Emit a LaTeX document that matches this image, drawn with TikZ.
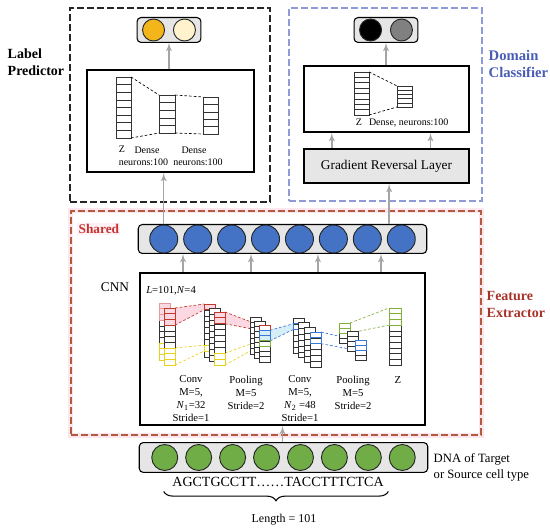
\documentclass[tikz,border=0pt]{standalone}
\usepackage{fontspec}
\setmainfont{Liberation Serif}
\usetikzlibrary{arrows}
\usetikzlibrary{calc}
\usetikzlibrary{matrix}
\usetikzlibrary{positioning}
\usetikzlibrary{decorations.pathreplacing}

\definecolor{lpgold}{HTML}{F2B51A}
\definecolor{lpcream}{HTML}{FFF2CC}
\definecolor{dcgray}{HTML}{808080}
\definecolor{dcblue}{HTML}{8E9BD8}
\definecolor{dctext}{HTML}{4A5DB5}
\definecolor{febrown}{HTML}{B25A3E}
\definecolor{fetext}{HTML}{A8322A}
\definecolor{fepink}{HTML}{FDE6EE}
\definecolor{sharedred}{HTML}{C8312F}
\definecolor{unitblue}{HTML}{4472C4}
\definecolor{unitgreen}{HTML}{70AD47}
\definecolor{stripgray}{HTML}{E7E6E6}
\definecolor{flowgray}{HTML}{A5A5A5}
\definecolor{cnnred}{HTML}{C0392B}
\definecolor{cnnyellow}{HTML}{E6D21E}
\definecolor{cnnblue}{HTML}{3A78D8}
\definecolor{cnngreen}{HTML}{82B03C}
\definecolor{rfpink}{HTML}{FBD8E2}
\definecolor{rfblue}{HTML}{D6EEF8}

\tikzstyle{every picture}=[>=latex']
\tikzstyle{every node}=[font=\fontsize{8}{9.75}\selectfont]
\tikzstyle{reset}=[inner sep=0pt, outer sep=0pt, anchor=center]
\tikzstyle{panel}=[draw=black!85, line width=1.3pt, dash pattern=on 5pt off 2.5pt, rectangle]
\tikzstyle{block}=[draw, line width=1.6pt, rectangle, inner sep=0pt]
\tikzstyle{strip}=[draw, rectangle, rounded corners=3pt, fill=stripgray, line width=0.8pt]
\tikzstyle{unit}=[reset, draw=black!85, circle, line width=0.7pt]
\tikzstyle{flow}=[->, draw=flowgray, line width=1.1pt]
\tikzstyle{link}=[line width=0.5pt, dash pattern=on 2pt off 1.5pt]
\tikzstyle{title}=[font=\fontsize{10.5}{12.75}\selectfont\bfseries, align=left, anchor=west]
\tikzstyle{dense}=[reset, font=\fontsize{7.5}{9}\selectfont]

\newcommand{\markcells}[5]{%
  \foreach \k [evaluate=\k as \ka using (\k-1)/#4, evaluate=\k as \kb using \k/#4] in {#2,...,#3}
    \draw[#5] ($(#1.north west)!\ka!(#1.south west)$) rectangle ($(#1.north east)!\kb!(#1.south east)$);
}
\tikzset{col/.style={draw=black!80, fill=white, rectangle, inner sep=0pt, outer sep=0pt,
    anchor=north west, line width=0.4pt,
    path picture={\markcells{path picture bounding box}{1}{#1}{#1}{black!80, line width=0.4pt}}},
  fmap/.style={col=#1, minimum width=8.25pt}}
\pgfdeclarelayer{background}
\pgfsetlayers{background,main}

\begin{document}
\begin{tikzpicture}[x=0.75pt, y=-0.75pt]
\useasboundingbox (0,0) rectangle (550,531);

% label predictor
\node[panel, minimum width=150pt, minimum height=145.5pt] (LPBox) at (170,105) {};
\node[title] (LPTitle) at (3,62) {Label\\Predictor};
\node[block, minimum width=125.25pt, minimum height=76.5pt] (LPNet) at (170.5,121) {};
\node[strip, matrix, column sep=6pt, inner xsep=3.75pt, inner ysep=0.75pt,
      nodes={unit, minimum size=16.5pt}] (LPOut) at (169,30) {
  \node[fill=lpgold] (lp1) {}; & \node[fill=lpcream] (lp2) {}; \\
};
\node[col=8, minimum width=11.25pt, minimum height=45.75pt] (LZ) at (116,77) {};
\node[col=5, minimum width=12pt, minimum height=28.5pt] (LD1) at (159,95) {};
\node[col=5, minimum width=11.25pt, minimum height=27.75pt] (LD2) at (203,97) {};
\draw[link] (LZ.north east) -- (LD1.north west);
\draw[link] (LZ.south east) -- (LD1.south west);
\draw[link] (LD1.north east) -- (LD2.north west);
\draw[link] (LD1.south east) -- (LD2.south west);
\node[dense] (LZtxt) at (122,149) {Z};
\node[dense] (LD1txt) at (147,150) {Dense};
\node[dense] (LD2txt) at (194,150) {Dense};
\node[dense] (LD1num) at (143.5,162) {neurons:100};
\node[dense] (LD2num) at (198,162) {neurons:100};

% domain classifier
\node[panel, draw=dcblue, line width=1pt, minimum width=144.75pt, minimum height=144.75pt] (DCBox) at (385.5,104.5) {};
\node[title, text=dctext, font=\fontsize{11}{12.75}\selectfont\bfseries] (DCTitle) at (484,63.5) {Domain\\Classifier};
\node[block, minimum width=123.75pt, minimum height=49.5pt] (DCNet) at (386.5,99) {};
\node[block, fill=stripgray, minimum width=123.75pt, minimum height=25.5pt,
      font=\fontsize{10}{12}\selectfont] (GRL) at (386.5,166) {Gradient Reversal Layer};
\node[strip, matrix, column sep=6pt, inner xsep=3.75pt, inner ysep=0.75pt,
      nodes={unit, minimum size=16.5pt}] (DCOut) at (386,30) {
  \node[fill=black] (dc1) {}; & \node[fill=dcgray] (dc2) {}; \\
};
\node[col=8, minimum width=11.25pt, minimum height=32.25pt] (DZ) at (354,72) {};
\node[col=5, minimum width=11.25pt, minimum height=15.75pt] (DD) at (397,86) {};
\draw[link] (DZ.north east) -- (DD.north west);
\draw[link] (DZ.south east) -- (DD.south west);
\node[dense] (DZtxt) at (359,122) {Z};
\node[dense, anchor=west] (DDtxt) at (369,123) {Dense, neurons:100};

% feature extractor
\node[panel, draw=febrown, line width=1.1pt, minimum width=307.5pt, minimum height=168pt] (FEBox) at (276,323) {};
\node[title, text=sharedred, font=\fontsize{10}{12}\selectfont\bfseries, fill=fepink!50,
      inner sep=1pt] (Shared) at (77,229) {Shared};
\node[title, text=fetext] (FETitle) at (482,304.5) {Feature\\Extractor};
\node[strip, matrix, column sep=3.75pt, inner xsep=8.25pt, inner ysep=0pt,
      nodes={unit, minimum size=21pt, fill=unitblue}] (BlueRow) at (282.5,239) {
  \node (b1) {}; & \node (b2) {}; & \node (b3) {}; & \node (b4) {}; &
  \node (b5) {}; & \node (b6) {}; & \node (b7) {}; & \node (b8) {}; \\
};
\node[block, minimum width=213.75pt, minimum height=114pt] (CNN) at (282.5,349) {};
\node[font=\fontsize{10}{12}\selectfont] (CNNtxt) at (115,287) {CNN};
\node[anchor=west, inner sep=0pt] (Dims) at (146,291) {\textit{L}=101,\textit{N}=4};

% feature maps
\node[fmap=10, minimum height=42.75pt] (In1) at (159,303) {};
\markcells{In1}{1}{3}{10}{draw=rfpink!60!cnnred, fill=rfpink, line width=0.4pt}
\markcells{In1}{8}{10}{10}{draw=cnnyellow, line width=0.5pt}
\node[fmap=10, minimum height=42.75pt] (In2) at (164,308) {};
\markcells{In2}{1}{3}{10}{draw=cnnred, fill=rfpink, line width=0.6pt}
\markcells{In2}{8}{10}{10}{draw=cnnyellow, line width=0.6pt}
\node[fmap=9, minimum height=39.75pt] (C1a) at (204,304) {};
\markcells{C1a}{1}{1}{9}{draw=cnnred, fill=rfpink, line width=0.6pt}
\markcells{C1a}{8}{8}{9}{draw=cnnyellow, line width=0.6pt}
\node[fmap=9, minimum height=39.75pt] (C1b) at (209,308) {};
\node[fmap=9, minimum height=39.75pt] (C1c) at (214,312) {};
\markcells{C1c}{1}{2}{9}{draw=cnnred, fill=rfpink, line width=0.6pt}
\markcells{C1c}{8}{9}{9}{draw=cnnyellow, line width=0.6pt}
\node[fmap=7, minimum height=27.75pt] (P1a) at (250,317) {};
\node[fmap=7, minimum height=27.75pt] (P1b) at (254.5,321) {};
\node[fmap=7, minimum height=27.75pt] (P1c) at (259,325) {};
\markcells{P1c}{1}{1}{7}{draw=cnnred, line width=0.6pt}
\markcells{P1c}{2}{3}{7}{draw=cnnblue, fill=rfblue, line width=0.6pt}
\markcells{P1c}{4}{4}{7}{draw=cnngreen, line width=0.6pt}
\node[fmap=6, minimum height=26.25pt] (C2a) at (293,318) {};
\markcells{C2a}{2}{2}{6}{draw=cnnblue, line width=0.6pt}
\node[fmap=6, minimum height=26.25pt] (C2b) at (298.7,322.7) {};
\node[fmap=6, minimum height=26.25pt] (C2c) at (304.3,327.3) {};
\node[fmap=6, minimum height=26.25pt] (C2d) at (310,332) {};
\markcells{C2d}{1}{2}{6}{draw=cnnblue, line width=0.7pt}
\node[fmap=4, minimum height=15pt] (P2a) at (339,323) {};
\markcells{P2a}{1}{2}{4}{draw=cnngreen, line width=0.7pt}
\node[fmap=4, minimum height=15pt] (P2b) at (347,331.5) {};
\node[fmap=4, minimum height=15pt] (P2c) at (355,340) {};
\markcells{P2c}{1}{2}{4}{draw=cnnblue, line width=0.7pt}
\node[col=10, minimum width=9pt, minimum height=42.75pt] (ZF) at (389,308) {};
\markcells{ZF}{1}{3}{10}{draw=cnngreen, line width=0.7pt}

\node[align=center] (Conv1txt) at (191,398.5) {Conv\\M=5,\\\textit{N}\textsubscript{1}=32\\Stride=1};
\node[align=center] (Pool1txt) at (246,392.5) {Pooling\\M=5\\Stride=2};
\node[align=center] (Conv2txt) at (300,398.5) {Conv\\M=5,\\\textit{N}\textsubscript{2} =48\\Stride=1};
\node[align=center] (Pool2txt) at (353,392.5) {Pooling\\M=5\\Stride=2};
\node (Ztxt) at (398,380) {Z};

% input
\node[strip, matrix, column sep=5.25pt, inner xsep=9pt, inner ysep=1.1pt,
      nodes={unit, minimum size=19.5pt, fill=unitgreen}] (GreenRow) at (283.5,457.5) {
  \node (g1) {}; & \node (g2) {}; & \node (g3) {}; & \node (g4) {}; &
  \node (g5) {}; & \node (g6) {}; & \node (g7) {}; & \node (g8) {}; \\
};
\node[anchor=west, align=left, font=\fontsize{9.5}{12}\selectfont] (DNA) at (429,467) {DNA of Target\\or Source cell type};
\node[font=\fontsize{10.5}{12}\selectfont] (Seq) at (278,482) {AGCTGCCTT……TACCTTTCTCA};
\draw[decorate, decoration={brace, mirror, amplitude=7pt}, line width=0.8pt]
  ([xshift=-3pt]Seq.south west) -- (Seq.south east);
\node[font=\fontsize{9}{11}\selectfont] (Len) at (284,520) {Length = 101};

% connections
\coordinate (grlin) at ([xshift=2pt]GRL.south);
\coordinate (grlout1) at ([xshift=-41pt]GRL.north);
\coordinate (grlout2) at ([xshift=33pt]GRL.north);
\coordinate (cnnout1) at ([xshift=-74.6pt]CNN.north);
\coordinate (cnnout2) at ([xshift=-23.6pt]CNN.north);
\coordinate (cnnout3) at ([xshift=26.6pt]CNN.north);
\coordinate (cnnout4) at ([xshift=73.9pt]CNN.north);

\draw[flow] (b1 |- BlueRow.north) -- (b1 |- LPNet.south);
\draw[flow] (LPOut.south |- LPNet.north) -- (LPOut.south);
\draw[flow] (grlin |- BlueRow.north) -- (grlin);
\draw[flow] (grlout1) -- (grlout1 |- DCNet.south);
\draw[flow] (grlout2) -- (grlout2 |- DCNet.south);
\draw[flow] (DCOut.south |- DCNet.north) -- (DCOut.south);
\draw[flow] (cnnout1) -- (cnnout1 |- BlueRow.south);
\draw[flow] (cnnout2) -- (cnnout2 |- BlueRow.south);
\draw[flow] (cnnout3) -- (cnnout3 |- BlueRow.south);
\draw[flow] (cnnout4) -- (cnnout4 |- BlueRow.south);
\draw[flow] (CNN.south |- GreenRow.north) -- (CNN.south);

\begin{pgfonlayer}{background}
\draw[fepink, line width=3.5pt] (FEBox.north west) rectangle (FEBox.south east);
\fill[rfpink] (In2.north east) -- (C1a.north west) -- ($(C1a.north west)!.111!(C1a.south west)$)
  -- ($(In2.north east)!.3!(In2.south east)$) -- cycle;
\fill[rfpink] (C1c.north east) -- (P1c.north west) -- ($(P1c.north west)!.143!(P1c.south west)$)
  -- ($(C1c.north east)!.222!(C1c.south east)$) -- cycle;
\fill[rfblue] ($(P1c.north east)!.143!(P1c.south east)$) -- ($(C2a.north west)!.167!(C2a.south west)$)
  -- ($(C2a.north west)!.333!(C2a.south west)$) -- ($(P1c.north east)!.429!(P1c.south east)$) -- cycle;
\draw[link, cnnred] (In2.north east) -- (C1a.north west);
\draw[link, cnnred] ($(In2.north east)!.3!(In2.south east)$) -- ($(C1a.north west)!.111!(C1a.south west)$);
\draw[link, cnnyellow] ($(In2.north east)!.7!(In2.south east)$) -- ($(C1a.north west)!.778!(C1a.south west)$);
\draw[link, cnnyellow] (In2.south east) -- ($(C1a.north west)!.889!(C1a.south west)$);
\draw[link, cnnred] (C1c.north east) -- (P1c.north west);
\draw[link, cnnred] ($(C1c.north east)!.222!(C1c.south east)$) -- ($(P1c.north west)!.143!(P1c.south west)$);
\draw[link, cnnyellow] ($(C1c.north east)!.778!(C1c.south east)$) -- ($(P1c.north west)!.429!(P1c.south west)$);
\draw[link, cnnyellow] (C1c.south east) -- ($(P1c.north west)!.571!(P1c.south west)$);
\draw[link, cnnblue] ($(P1c.north east)!.143!(P1c.south east)$) -- ($(C2a.north west)!.167!(C2a.south west)$);
\draw[link, cnnblue] ($(P1c.north east)!.429!(P1c.south east)$) -- ($(C2a.north west)!.333!(C2a.south west)$);
\draw[link, cnnblue] (C2d.north east) -- (P2c.north west);
\draw[link, cnnblue] ($(C2d.north east)!.333!(C2d.south east)$) -- ($(P2c.north west)!.5!(P2c.south west)$);
\draw[link, cnngreen] (P2a.north east) -- (ZF.north west);
\draw[link, cnngreen] ($(P2a.north east)!.5!(P2a.south east)$) -- ($(ZF.north west)!.3!(ZF.south west)$);
\end{pgfonlayer}

\end{tikzpicture}
\end{document}
